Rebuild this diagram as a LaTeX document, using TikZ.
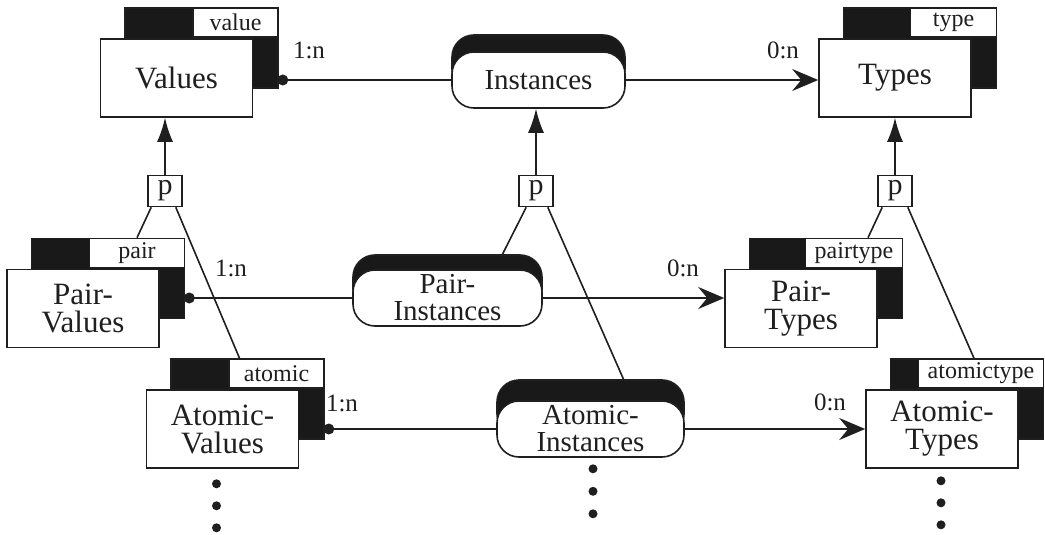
\documentclass[tikz,border=0pt]{standalone}
\usepackage{fontspec}
\setmainfont{Liberation Serif}
\usetikzlibrary{calc,arrows.meta}
\definecolor{ink}{gray}{0.12}
\definecolor{shade}{gray}{0.10}

% entity: name, centre x, centre y, label, tag text, tag width
\newcommand\entity[6]{%
  \node[backbox] (#1-back) at (#2+25,#3-30) {};
  \node[tagbox, minimum width=#6pt] (#1-tag) at (#1-back.north east) {#5};
  \node[frontbox] (#1) at (#2,#3) {#4};
}

\begin{document}
\begin{tikzpicture}[x=1pt,y=-1pt,line width=1.6pt,
  frontbox/.style={draw=ink, fill=white, minimum width=152pt, minimum height=78pt,
    inner sep=0pt, align=center, text=ink, font=\fontsize{31}{28}\selectfont},
  backbox/.style={draw=ink, fill=shade, minimum width=153pt, minimum height=80pt, inner sep=0pt},
  tagbox/.style={draw=ink, fill=white, minimum height=29pt, inner sep=0pt,
    anchor=north east, text=ink, font=\fontsize{24}{24}\selectfont},
  relbox/.style={draw=ink, fill=white, rounded corners=22pt, minimum height=56pt,
    inner sep=0pt, align=center, text=ink, font=\fontsize{29}{27}\selectfont},
  relshade/.style={draw=ink, fill=shade, rounded corners=22pt, minimum height=56pt, inner sep=0pt},
  pbox/.style={draw=ink, fill=white, minimum width=34pt, minimum height=31pt,
    inner sep=0pt, text=ink, font=\fontsize{30}{30}\selectfont},
  card/.style={inner sep=0pt, text=ink, font=\fontsize{25}{25}\selectfont},
  link/.style={draw=ink},
  isa/.style={draw=ink, -{Latex[length=24pt,width=16pt]}},
  many/.style={draw=ink, -{Stealth[length=26pt,width=22pt,inset=9pt]}},
  dotend/.style={fill=ink},
]
\useasboundingbox (0,0) rectangle (1045,535);

% entity sets
\entity{values}{176.5}{78}{Values}{value}{85}
\entity{types}{895}{78}{Types}{type}{86}
\entity{pvalues}{83}{308.5}{Pair-\\Values}{pair}{95}
\entity{avalues}{222.5}{429}{Atomic-\\Values}{atomic}{95}
\entity{ptypes}{801}{308.5}{Pair-\\Types}{pairtype}{97}
\entity{atypes}{942}{429}{Atomic-\\Types}{atomictype}{125}

% relationships
\node[relshade, minimum width=173pt] (inst-sh) at (538.5,63) {};
\node[relbox, minimum width=173pt] (inst) at (538.5,80) {Instances};
\node[relshade, minimum width=189pt] (pinst-sh) at (447.5,283) {};
\node[relbox, minimum width=189pt] (pinst) at (447.5,298) {Pair-\\Instances};
\node[relshade, minimum width=187pt] (ainst-sh) at (590.5,408) {};
\node[relbox, minimum width=187pt] (ainst) at (590.5,429) {Atomic-\\Instances};

% partition markers
\node[pbox] (p1) at (165,191) {p};
\node[pbox] (p2) at (536,191) {p};
\node[pbox] (p3) at (895,191) {p};

\draw[isa] (p1.north) -- (p1.north |- values.south);
\draw[isa] (p2.north) -- (p2.north |- inst.south);
\draw[isa] (p3.north) -- (p3.north |- types.south);

\draw[link] ($(p1.south west)+(4,0)$) -- (pvalues-tag.north);
\draw[link] ($(p1.south east)+(-7,0)$) -- ($(avalues-back.north)+(-8,0)$);
\draw[link] ($(p2.south west)+(8,0)$) -- ($(pinst-sh.north)+(55,0)$);
\draw[link] ($(p2.south east)+(-6,0)$) -- ($(ainst-sh.north)+(33,0)$);
\draw[link] ($(p3.south west)+(5,0)$) -- ($(ptypes-tag.north)+(14,0)$);
\draw[link] ($(p3.south east)+(-5,0)$) -- ($(atypes-back.north)+(7,0)$);

% relationship lines
\coordinate (vdot) at ($(values-back.east |- inst.west)+(4,0)$);
\coordinate (pvdot) at ($(pvalues-back.east |- pinst.west)+(4,0)$);
\coordinate (avdot) at ($(avalues-back.east |- ainst.west)+(4,0)$);

\draw[link] (vdot) -- (inst.west);
\draw[link] (pvdot) -- (pinst.west);
\draw[link] (avdot) -- (ainst.west);
\fill[dotend] (vdot) circle (5.5);
\fill[dotend] (pvdot) circle (5.5);
\fill[dotend] (avdot) circle (5.5);

\draw[many] (inst.east) -- (inst.east -| types.west);
\draw[many] (pinst.east) -- (pinst.east -| ptypes.west);
\draw[many] (ainst.east) -- (ainst.east -| atypes.west);

% cardinalities
\node[card] (c1) at (309,50) {1:n};
\node[card] (c2) at (783,50) {0:n};
\node[card] (c3) at (231,268) {1:n};
\node[card] (c4) at (683,268) {0:n};
\node[card] (c5) at (342,403) {1:n};
\node[card] (c6) at (830,402) {0:n};

% continuation marks
\foreach \k in {0,1,2} {
  \fill[ink] ($(avalues.south)+(-6,15+22*\k)$) circle (4.5);
  \fill[ink] ($(ainst.south)+(2.5,11+22.5*\k)$) circle (4.5);
  \fill[ink] ($(atypes.south)+(-1,12+22*\k)$) circle (4.5);
}
\end{tikzpicture}
\end{document}
